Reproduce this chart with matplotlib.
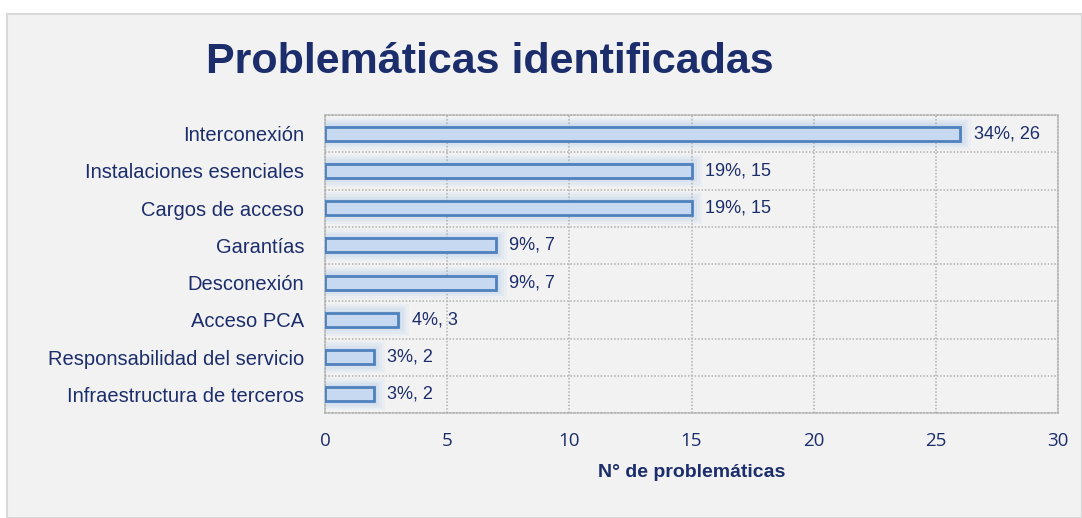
import matplotlib
matplotlib.use("Agg")
import matplotlib.pyplot as plt
from matplotlib.patches import Rectangle
from matplotlib import font_manager

categories = ["Interconexión", "Instalaciones esenciales", "Cargos de acceso", "Garantías",
              "Desconexión", "Acceso PCA", "Responsabilidad del servicio", "Infraestructura de terceros"]
values = [26, 15, 15, 7, 7, 3, 2, 2]
percents = ["34%", "19%", "19%", "9%", "9%", "4%", "3%", "3%"]
xticks = [0, 5, 10, 15, 20, 25, 30]

names = {f.name for f in font_manager.fontManager.ttflist}
narrow = "Liberation Sans Narrow" if "Liberation Sans Narrow" in names else "Liberation Sans"

navy = "#1c2d6b"
fig = plt.figure(figsize=(10.82, 5.18), dpi=100)
fig.patch.set_facecolor("white")
panel = Rectangle((7/1082, 0), 1 - 7/1082, 1 - 14/518, transform=fig.transFigure,
                  facecolor="#f2f2f2", edgecolor="#d9d9d9", linewidth=1.5, zorder=-10)
fig.patches.append(panel)

ax = fig.add_axes([325/1082, 1 - 413/518, 733/1082, 298/518])
ax.set_zorder(1)
ax.set_facecolor("none")
y = list(range(len(categories)))
bh = 0.38
# glow
for k, a in [(4, 0.12), (3, 0.16), (2, 0.22), (1, 0.32)]:
    px = 0.11 * k
    py = 0.06 * k
    ax.barh(y, [v + 2 * px for v in values], left=-px, height=bh + 2 * py,
            color="#b8d0ee", alpha=a, linewidth=0, zorder=1)
ax.barh(y, values, height=bh, color="#c6d9f1", edgecolor="#4f81bd", linewidth=2, zorder=3)

for yi, v, p in zip(y, values, percents):
    ax.text(v + 0.55, yi, f"{p}, {v}", va="center", ha="left", fontsize=13,
            color=navy, family=narrow, zorder=4)

ax.set_xlim(0, 30)
ax.set_ylim(len(categories) - 0.5, -0.5)
ax.set_xticks(xticks)
ax.set_yticks(y)
ax.set_yticklabels(categories, family=narrow, fontsize=14.5, color=navy)
ax.set_xticklabels([str(t) for t in xticks], family="Open Sans", fontsize=13.5, color=navy)
ax.tick_params(axis="both", length=0)
ax.tick_params(axis="y", pad=15)
ax.tick_params(axis="x", pad=14)
ax.set_yticks([i + 0.5 for i in range(-1, len(categories))], minor=True)
ax.tick_params(which="minor", length=0)
ax.grid(True, axis="x", which="major", linestyle=(0, (1, 1.2)), color="#b0b0b0", linewidth=1.1, zorder=0)
ax.grid(True, axis="y", which="minor", linestyle=(0, (1, 1.2)), color="#b0b0b0", linewidth=1.1, zorder=0)
ax.grid(False, axis="y", which="major")
for s in ax.spines.values():
    s.set_linestyle((0, (1, 1.2)))
    s.set_color("#b0b0b0")
    s.set_linewidth(1.1)
ax.set_xlabel("N° de problemáticas", family=narrow, fontsize=14, fontweight="bold", color=navy, labelpad=10)

fig.text(490/1082, 1 - 62/518, "Problemáticas identificadas", ha="center", va="center",
         family=narrow, fontsize=31, fontweight="bold", color=navy)

fig.savefig("out.png", dpi=100, facecolor=fig.get_facecolor())
